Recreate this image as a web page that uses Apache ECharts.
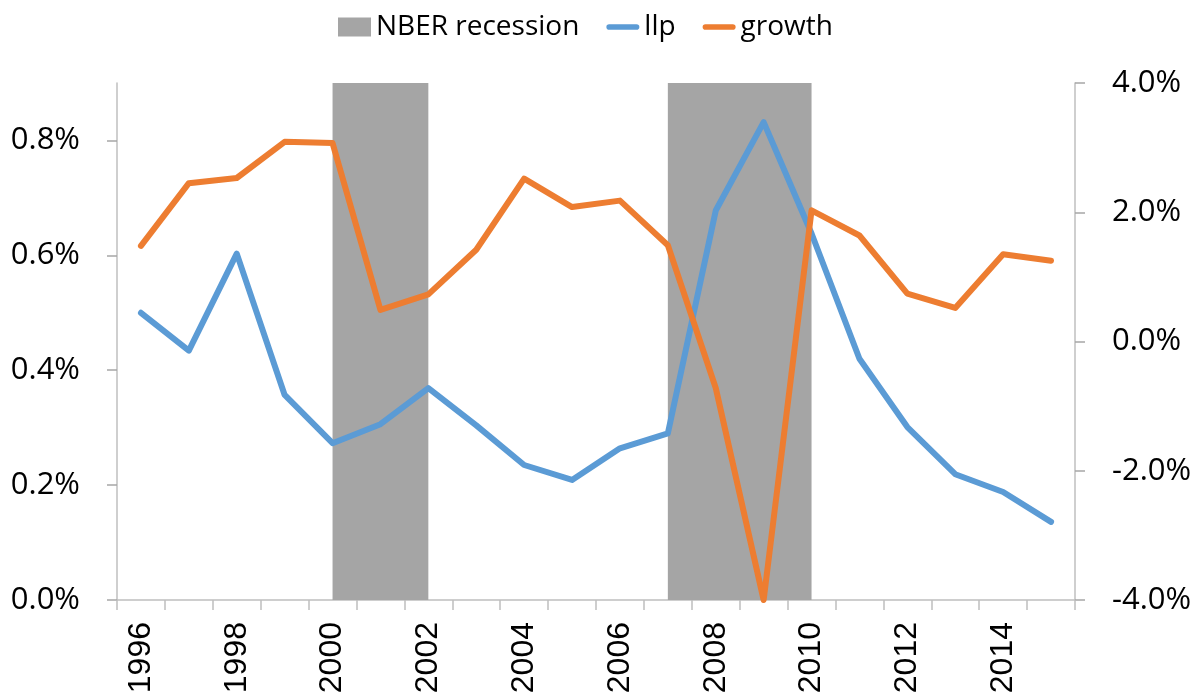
<!DOCTYPE html>
<html>
<head>
<meta charset="utf-8">
<script src="https://cdn.jsdelivr.net/npm/echarts@6/dist/echarts.min.js"></script>
<style>
html,body{margin:0;padding:0;background:#fff;}
#chart{width:1200px;height:699px;}
</style>
</head>
<body>
<div id="chart"></div>
<script>
const years = ['1996','1997','1998','1999','2000','2001','2002','2003','2004','2005','2006','2007','2008','2009','2010','2011','2012','2013','2014','2015'];
// llp, percent
const llp = [0.500,0.434,0.603,0.357,0.273,0.306,0.369,0.304,0.235,0.209,0.264,0.290,0.678,0.832,0.638,0.420,0.301,0.219,0.188,0.136];
// growth, percent
const growth = [1.48,2.45,2.53,3.09,3.07,0.49,0.73,1.42,2.52,2.08,2.18,1.49,-0.72,-4.0,2.03,1.64,0.74,0.52,1.35,1.25];
// NBER recession spans (start year, end year)
const recessions = [['2000','2002'],['2007','2010']];
const leftTicks = [0,0.2,0.4,0.6,0.8];
const rightTicks = [-4,-2,0,2,4];

const chart = echarts.init(document.getElementById('chart'));
const axisGray = '#BFBFBF';
const tickGray = '#A6A6A6';
const lineIcon = 'path://M3,0 L32,0 A3,3 0 0 1 32,6 L3,6 A3,3 0 0 1 3,0 Z';
chart.setOption({
  animation: false,
  backgroundColor: '#fff',
  legend: {
    left: 333, top: 8,
    itemWidth: 33, itemHeight: 19, itemGap: 27,
    textStyle: {fontFamily: 'Open Sans', fontSize: 28, color: '#000'},
    data: [
      {name: 'NBER recession', icon: 'rect'},
      {name: 'llp', icon: lineIcon, itemStyle: {color: '#5B9BD5'}},
      {name: 'growth', icon: lineIcon, itemStyle: {color: '#ED7D31'}}
    ]
  },
  grid: {left: 117, right: 125, top: 83, bottom: 99, containLabel: false, outerBoundsMode: 'none'},
  xAxis: [
    {
      type: 'category', data: years, boundaryGap: true,
      axisLine: {show: true, onZero: false, lineStyle: {color: axisGray, width: 1.5}},
      axisTick: {show: true, interval: 0, length: 10, lineStyle: {color: axisGray, width: 1.5}},
      axisLabel: {interval: 1, rotate: 90, margin: 22, fontFamily: 'Liberation Sans', fontSize: 32, color: '#000'},
      splitLine: {show: false}
    },
    {
      type: 'value', min: -0.5, max: years.length - 0.5, show: false, position: 'bottom',
      axisLine: {onZero: false}
    }
  ],
  yAxis: [
    {
      type: 'value', min: 0, max: 0.9, interval: 0.2, position: 'left',
      axisLine: {show: true, onZero: false, lineStyle: {color: axisGray, width: 1.5}},
      axisTick: {show: true, length: 10, customValues: leftTicks, lineStyle: {color: tickGray, width: 1.5}},
      axisLabel: {customValues: leftTicks, margin: 37, fontFamily: 'Open Sans', fontSize: 31, color: '#000',
        formatter: v => v.toFixed(1) + '%'},
      splitLine: {show: false}
    },
    {
      type: 'value', min: -4, max: 4, interval: 2, position: 'right',
      axisLine: {show: true, onZero: false, lineStyle: {color: axisGray, width: 1.5}},
      axisTick: {show: true, length: 10, customValues: rightTicks, lineStyle: {color: tickGray, width: 1.5}},
      axisLabel: {customValues: rightTicks, margin: 37, fontFamily: 'Open Sans', fontSize: 31, color: '#000',
        formatter: v => v.toFixed(1) + '%'},
      splitLine: {show: false}
    }
  ],
  series: [
    {
      name: 'NBER recession', type: 'line', data: [], z: 1,
      xAxisIndex: 1, yAxisIndex: 0,
      color: '#A5A5A5', symbol: 'none',
      markArea: {
        silent: true,
        itemStyle: {color: '#A5A5A5', opacity: 1},
        data: recessions.map(r => [{xAxis: years.indexOf(r[0])}, {xAxis: years.indexOf(r[1])}])
      }
    },
    {
      name: 'llp', type: 'line', data: llp, xAxisIndex: 0, yAxisIndex: 0, z: 3,
      symbol: 'none', color: '#5B9BD5',
      lineStyle: {color: '#5B9BD5', width: 6, cap: 'round', join: 'round'}
    },
    {
      name: 'growth', type: 'line', data: growth, xAxisIndex: 0, yAxisIndex: 1, z: 4,
      symbol: 'none', color: '#ED7D31',
      lineStyle: {color: '#ED7D31', width: 6, cap: 'round', join: 'round'}
    }
  ]
});
</script>
</body>
</html>
